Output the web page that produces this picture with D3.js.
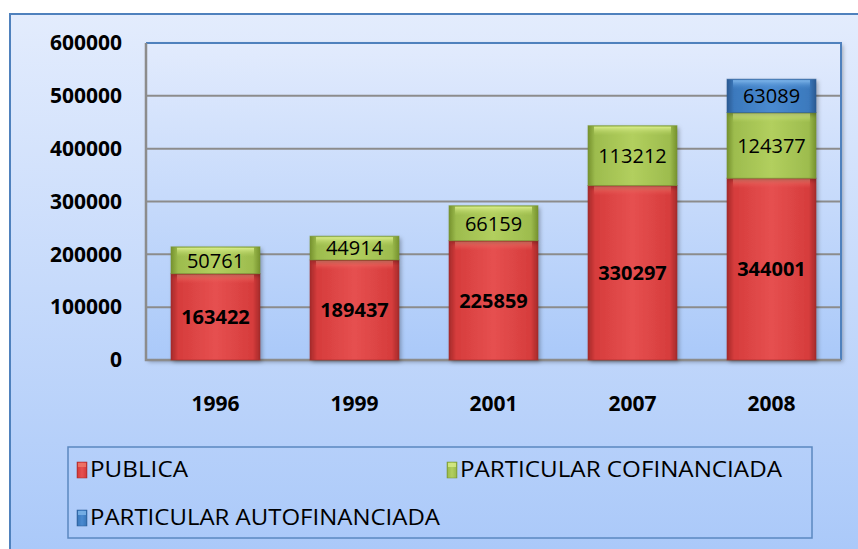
<!DOCTYPE html>
<html>
<head>
<meta charset="utf-8">
<script src="https://cdn.jsdelivr.net/npm/d3@7"></script>
<style>
  body { margin: 0; background: #fff; }
  svg { display: block; font-family: "Open Sans", sans-serif; }
</style>
</head>
<body>
<svg id="chart" width="858" height="549"></svg>
<script>
// datos del grafico
var years = ["1996", "1999", "2001", "2007", "2008"];
var publica = [163422, 189437, 225859, 330297, 344001];
var cofinanciada = [50761, 44914, 66159, 113212, 124377];
var autofinanciada = [0, 0, 0, 0, 63089];
var seriesNames = ["PUBLICA", "PARTICULAR COFINANCIADA", "PARTICULAR AUTOFINANCIADA"];
var yTicks = [0, 100000, 200000, 300000, 400000, 500000, 600000];

var svg = d3.select("#chart");
var defs = svg.append("defs");

// fondo degradado
var bg = defs.append("linearGradient").attr("id", "bg").attr("x1", 0).attr("y1", 0).attr("x2", 0).attr("y2", 1);
bg.append("stop").attr("offset", "0%").attr("stop-color", "#e3ecfd");
bg.append("stop").attr("offset", "100%").attr("stop-color", "#a9c8f9");

var plotBg = defs.append("linearGradient").attr("id", "plotBg").attr("x1", 0).attr("y1", 0).attr("x2", 0).attr("y2", 1);
plotBg.append("stop").attr("offset", "0%").attr("stop-color", "#e2ebfd");
plotBg.append("stop").attr("offset", "100%").attr("stop-color", "#aac9f9");

// colores de las series
var colors = [
  { id: "red", dark: "#a52a2a", mid: "#d63c3c", light: "#e65050", top: "#f07a6a" },
  { id: "green", dark: "#76922e", mid: "#9dbc4e", light: "#b2cf5e", top: "#d8ec8a" },
  { id: "blue", dark: "#2a5a92", mid: "#3b79bd", light: "#4a8ad0", top: "#7fb6ea" }
];
colors.forEach(function (c) {
  var g = defs.append("linearGradient").attr("id", "g-" + c.id).attr("x1", 0).attr("y1", 0).attr("x2", 1).attr("y2", 0);
  g.append("stop").attr("offset", "0%").attr("stop-color", c.dark);
  g.append("stop").attr("offset", "8%").attr("stop-color", c.mid);
  g.append("stop").attr("offset", "50%").attr("stop-color", c.light);
  g.append("stop").attr("offset", "92%").attr("stop-color", c.mid);
  g.append("stop").attr("offset", "100%").attr("stop-color", c.dark);
  var t = defs.append("linearGradient").attr("id", "t-" + c.id).attr("x1", 0).attr("y1", 0).attr("x2", 0).attr("y2", 1);
  t.append("stop").attr("offset", "0%").attr("stop-color", c.top);
  t.append("stop").attr("offset", "100%").attr("stop-color", c.light).attr("stop-opacity", 0);
});

var shadow = defs.append("filter").attr("id", "shadow").attr("x", "-10%").attr("y", "-10%").attr("width", "130%").attr("height", "130%");
shadow.append("feDropShadow").attr("dx", 2).attr("dy", 2).attr("stdDeviation", 2).attr("flood-color", "#000").attr("flood-opacity", 0.3);

// marco exterior
svg.append("rect")
  .attr("x", 10).attr("y", 14).attr("width", 860).attr("height", 550)
  .attr("fill", "url(#bg)")
  .attr("stroke", "#4f81bd").attr("stroke-width", 2);

var plotLeft = 146, plotRight = 841, plotTop = 43, plotBottom = 360;

var x = d3.scaleBand().domain(years).range([plotLeft, plotRight]).paddingInner(0.36).paddingOuter(0.18);
var y = d3.scaleLinear().domain([0, 600000]).range([plotBottom, plotTop]);

// area del grafico
svg.append("rect")
  .attr("x", plotLeft).attr("y", plotTop).attr("width", plotRight - plotLeft).attr("height", plotBottom - plotTop)
  .attr("fill", "url(#plotBg)").attr("filter", "url(#shadow)");

// lineas de cuadricula
svg.append("g").selectAll("line").data(yTicks.filter(function (d) { return d > 0 && d < 600000; }))
  .enter().append("line")
  .attr("x1", plotLeft).attr("x2", plotRight)
  .attr("y1", function (d) { return y(d); }).attr("y2", function (d) { return y(d); })
  .attr("stroke", "#8c8c8c").attr("stroke-width", 2);

// bordes del area
svg.append("path").attr("d", "M" + plotLeft + "," + plotTop + "H" + plotRight + "V" + plotBottom)
  .attr("fill", "none").attr("stroke", "#4f81bd").attr("stroke-width", 2);
svg.append("path").attr("d", "M" + plotLeft + "," + plotTop + "V" + plotBottom + "H" + plotRight)
  .attr("fill", "none").attr("stroke", "#8c8c8c").attr("stroke-width", 2.5);

// eje Y
var yAxis = d3.axisLeft(y).tickValues(yTicks).tickSize(0).tickPadding(24).tickFormat(d3.format("d"));
var gy = svg.append("g").attr("transform", "translate(" + plotLeft + ",0)").call(yAxis);
gy.select(".domain").remove();
gy.selectAll("text").attr("font-size", 21).attr("font-weight", "bold").attr("fill", "#000")
  .attr("font-family", "Open Sans, sans-serif");

// eje X
var xAxis = d3.axisBottom(x).tickSize(0).tickPadding(36);
var gx = svg.append("g").attr("transform", "translate(0," + plotBottom + ")").call(xAxis);
gx.select(".domain").remove();
gx.selectAll("text").attr("font-size", 21).attr("font-weight", "bold").attr("fill", "#000")
  .attr("font-family", "Open Sans, sans-serif");

// barras apiladas
var rows = years.map(function (yr, i) {
  return { year: yr, PUBLICA: publica[i], COF: cofinanciada[i], AUTO: autofinanciada[i] };
});
var stack = d3.stack().keys(["PUBLICA", "COF", "AUTO"]);
var stacked = stack(rows);

var fontWeights = ["bold", "normal", "normal"];

stacked.forEach(function (layer, k) {
  var c = colors[k];
  var g = svg.append("g");
  layer.forEach(function (d) {
    var v = d[1] - d[0];
    if (v <= 0) return;
    var bx = x(d.data.year), bw = x.bandwidth();
    var y0 = y(d[0]), y1 = y(d[1]);
    g.append("rect").attr("x", bx).attr("y", y1).attr("width", bw).attr("height", y0 - y1)
      .attr("fill", "url(#g-" + c.id + ")").attr("filter", "url(#shadow)");
    g.append("rect").attr("x", bx + 6).attr("y", y1 + 1).attr("width", bw - 12).attr("height", Math.min(9, y0 - y1 - 2))
      .attr("fill", "url(#t-" + c.id + ")");
    g.append("rect").attr("x", bx).attr("y", y1).attr("width", bw).attr("height", y0 - y1)
      .attr("fill", "none").attr("stroke", c.dark).attr("stroke-opacity", 0.6).attr("stroke-width", 1);
    g.append("text")
      .attr("x", bx + bw / 2).attr("y", (y0 + y1) / 2 + 2)
      .attr("text-anchor", "middle").attr("dominant-baseline", "middle")
      .attr("font-size", 20).attr("font-weight", fontWeights[k]).attr("fill", "#000")
      .text(v);
  });
});

// leyenda
svg.append("rect").attr("x", 68).attr("y", 447).attr("width", 744).attr("height", 91)
  .attr("fill", "none").attr("stroke", "#5b88c0").attr("stroke-width", 1.5);

var legendPos = [[77, 470], [447, 470], [77, 518]];
seriesNames.forEach(function (name, k) {
  var c = colors[k];
  var p = legendPos[k];
  svg.append("rect").attr("x", p[0]).attr("y", p[1] - 8).attr("width", 10).attr("height", 16)
    .attr("fill", "url(#g-" + c.id + ")").attr("stroke", c.dark).attr("stroke-width", 0.5);
  svg.append("rect").attr("x", p[0] + 1).attr("y", p[1] - 7).attr("width", 8).attr("height", 4)
    .attr("fill", c.top).attr("opacity", 0.8);
  svg.append("text").attr("x", p[0] + 13).attr("y", p[1] + 1).attr("dominant-baseline", "middle")
    .attr("font-size", 21).attr("fill", "#000")
    .attr("textLength", name.length * 14).attr("lengthAdjust", "spacingAndGlyphs")
    .text(name);
});
</script>
</body>
</html>
